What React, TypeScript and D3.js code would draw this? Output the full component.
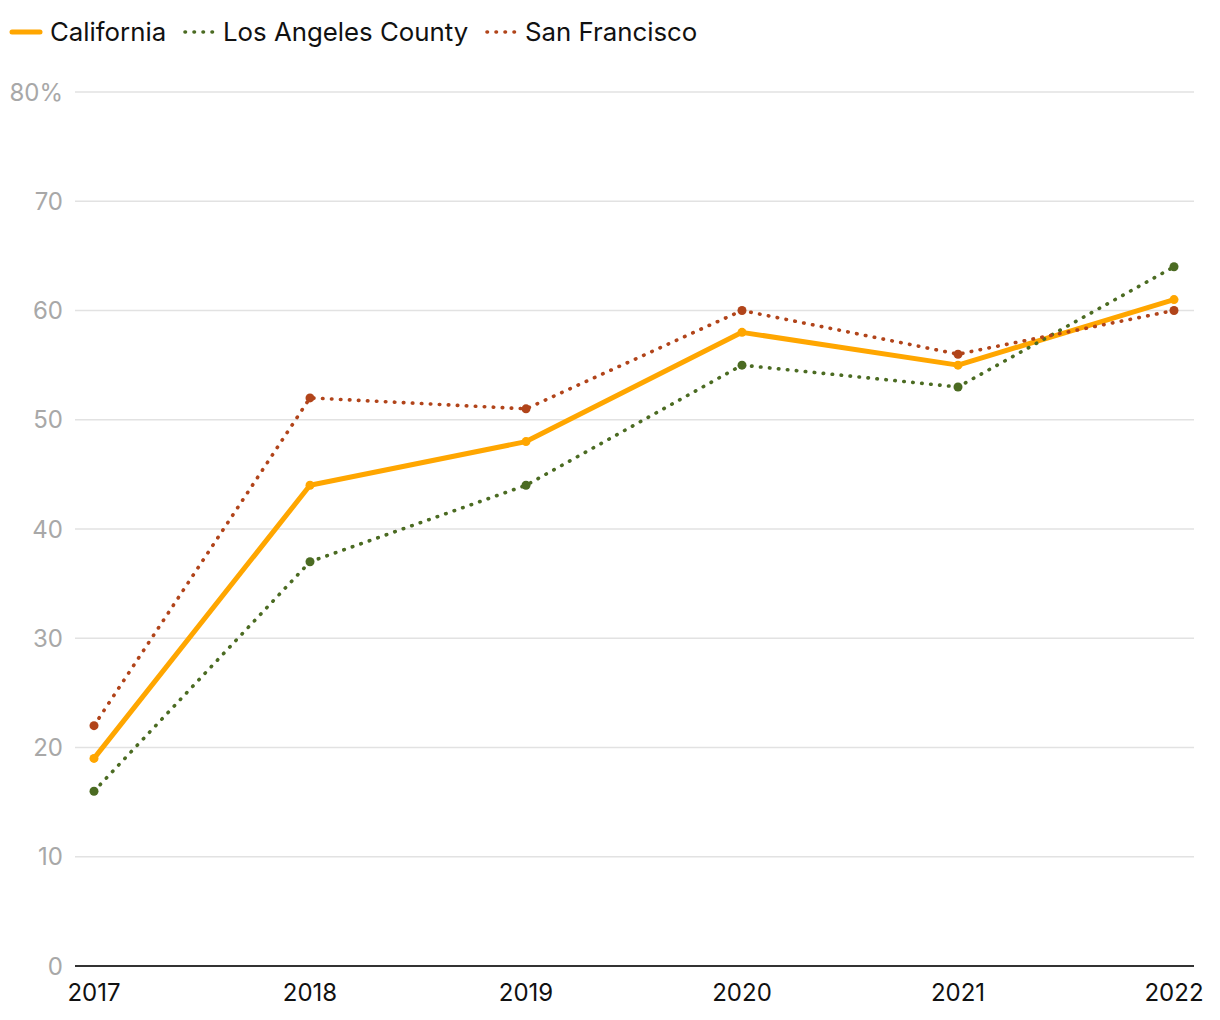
import React from "react";
import * as d3 from "d3";

const years = [2017, 2018, 2019, 2020, 2021, 2022];
const california = [19, 44, 48, 58, 55, 61];
const losAngeles = [16, 37, 44, 55, 53, 64];
const sanFrancisco = [22, 52, 51, 60, 56, 60];
const yTicks = [0, 10, 20, 30, 40, 50, 60, 70, 80];

const seriesList = [
  { name: "California", values: california, color: "#ffa600", width: 5, dash: null as string | null, r: 4.5 },
  { name: "Los Angeles County", values: losAngeles, color: "#4b6b22", width: 3.6, dash: "0.5 8.5", r: 4.5 },
  { name: "San Francisco", values: sanFrancisco, color: "#b1441a", width: 3.6, dash: "0.5 8.5", r: 4.5 },
];

const W = 1220, H = 1020;
const FONT = "Inter, 'Noto Sans', sans-serif";

export default function App() {
  const x = d3.scaleLinear().domain([2017, 2022]).range([94, 1174]);
  const y = d3.scaleLinear().domain([0, 80]).range([966, 92]);
  const line = d3.line<number>().x((_, i) => x(years[i])).y((d) => y(d));
  const legendX = [10, 183, 485];
  return (
    <svg width={W} height={H} style={{ position: "absolute", left: 0, top: 0, fontFamily: FONT }}>
      <rect width={W} height={H} fill="#fff" />
      {yTicks.map((t) =>
        t === 0 ? null : (
          <line key={t} x1={75} x2={1194} y1={y(t)} y2={y(t)} stroke="#e2e2e2" strokeWidth={1.5} />
        )
      )}
      {yTicks.map((t) => (
        <text key={"l" + t} x={63} y={y(t)} dy="0.36em" textAnchor="end" fontSize={24} fill="#a8a8a8">
          {t === 80 ? "80%" : t}
        </text>
      ))}
      <line x1={75} x2={1194} y1={y(0)} y2={y(0)} stroke="#333" strokeWidth={2} />
      {years.map((yr) => (
        <text key={yr} x={x(yr)} y={1001} textAnchor="middle" fontSize={24} fill="#111">
          {yr}
        </text>
      ))}
      {seriesList.map((s) => (
        <g key={s.name}>
          <path
            d={line(s.values) || ""}
            fill="none"
            stroke={s.color}
            strokeWidth={s.width}
            strokeDasharray={s.dash || undefined}
            strokeLinecap="round"
            strokeLinejoin="round"
          />
          {s.values.map((v, i) => (
            <circle key={i} cx={x(years[i])} cy={y(v)} r={s.r} fill={s.color} />
          ))}
        </g>
      ))}
      {seriesList.map((s, i) => (
        <g key={"lg" + s.name}>
          <line
            x1={legendX[i] + 2}
            x2={legendX[i] + 30}
            y1={32}
            y2={32}
            stroke={s.color}
            strokeWidth={s.dash ? 3.6 : 5}
            strokeDasharray={s.dash || undefined}
            strokeLinecap="round"
          />
          <text x={legendX[i] + 40} y={32} dy="0.36em" fontSize={25.8} fill="#111">
            {s.name}
          </text>
        </g>
      ))}
    </svg>
  );
}
